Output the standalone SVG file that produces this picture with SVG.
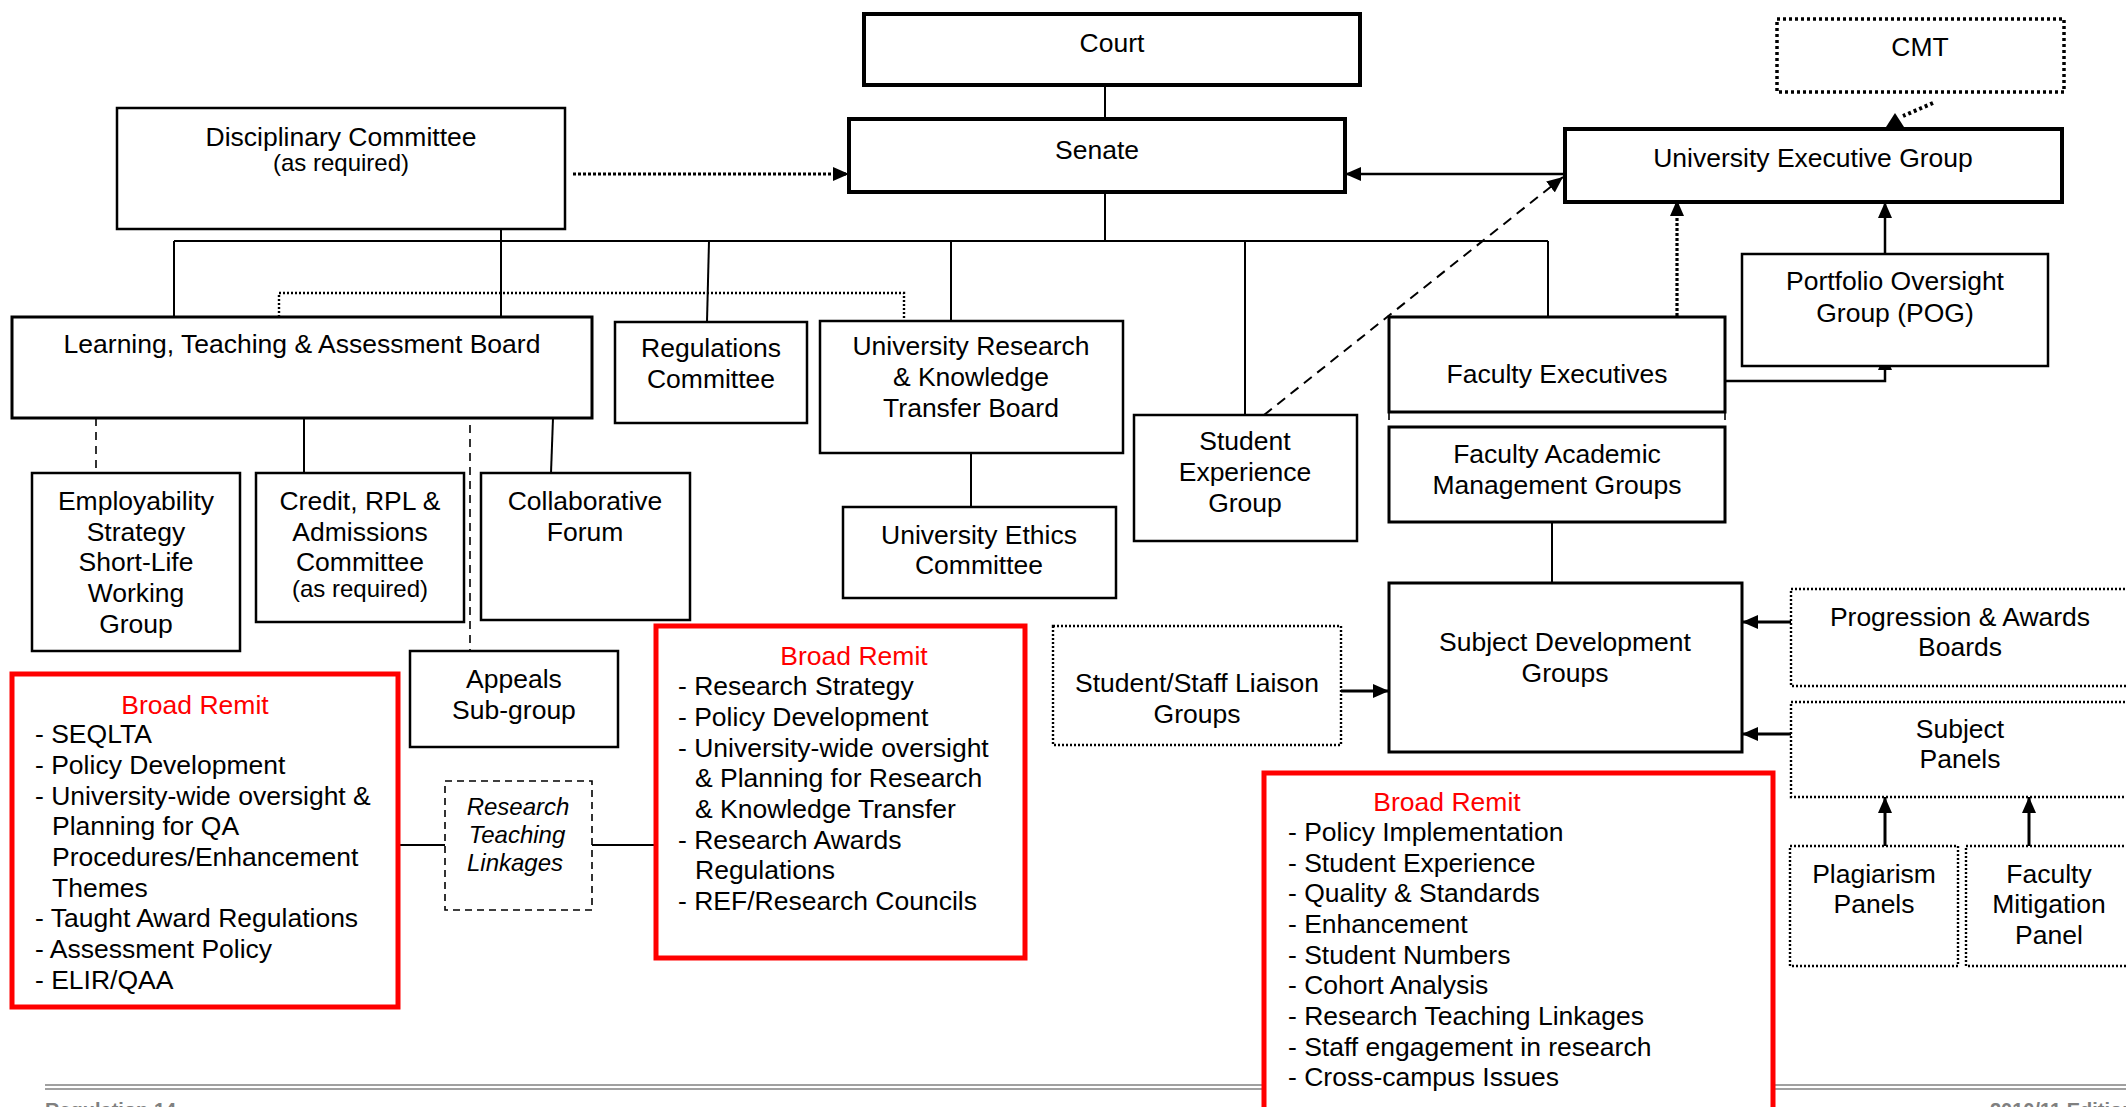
<svg xmlns="http://www.w3.org/2000/svg" width="2126" height="1107" viewBox="0 0 2126 1107">
<style>
.b{fill:#fff;stroke:#000;stroke-width:2.5}
.k{stroke-width:4}
.m{stroke-width:3}
.d{fill:#fff;stroke:#000;stroke-width:2.4;stroke-dasharray:2 2}
.r{fill:#fff;stroke:#f00;stroke-width:5}
text{font-family:"Liberation Sans",Arial,sans-serif;font-size:26.5px;fill:#000}
.c{text-anchor:middle}
.s{font-size:24px}
.i{font-style:italic;font-size:24px}
.rt{fill:#f00}
.ft{fill:#808080;font-weight:bold;font-size:20px}
.ln{fill:none;stroke:#000;stroke-width:2}
.ar{fill:none;stroke:#000;stroke-width:2.5}
.dt{fill:none;stroke:#000;stroke-width:3.2;stroke-dasharray:3 2}
.dt2{fill:none;stroke:#000;stroke-width:2.4;stroke-dasharray:2 2}
.ds{fill:none;stroke:#000;stroke-width:1.6;stroke-dasharray:8 6}
</style>
<defs>
<marker id="ah" viewBox="0 0 10 10" refX="10" refY="5" markerWidth="16" markerHeight="14" orient="auto" markerUnits="userSpaceOnUse" preserveAspectRatio="none"><path d="M0,0 L10,5 L0,10 z" fill="#000"/></marker>
</defs>

<g id="footer">
<line x1="45" y1="1085" x2="2126" y2="1085" stroke="#808080" stroke-width="1.4"/>
<line x1="45" y1="1089" x2="2126" y2="1089" stroke="#808080" stroke-width="1.4"/>
<text class="ft" x="45" y="1117">Regulation 14</text>
<text class="ft" x="1990" y="1117">2010/11 Edition</text>
</g>

<g id="connectors">
<path class="ln" d="M1105,85 V119"/>
<path class="ln" d="M1105,192 V241"/>
<path class="ln" d="M174,241 H1548"/>
<path class="ln" d="M174,241 V317"/>
<path class="ln" d="M709,241 L707,322"/>
<path class="ln" d="M951,241 V321"/>
<path class="ln" d="M1245,241 V415"/>
<path class="ln" d="M1548,241 V317"/>
<path class="ln" d="M501,229 V317"/>
<path class="dt2" d="M279,317 V293 H904 V321"/>
<path class="dt" d="M573,174 H849" marker-end="url(#ah)"/>
<path class="ar" d="M1565,174 H1345" marker-end="url(#ah)"/>
<path fill="none" stroke="#000" stroke-width="2" stroke-dasharray="10 7" d="M1264,415 L1563,177" marker-end="url(#ah)"/>
<path class="dt" d="M1677,316 V200" marker-end="url(#ah)"/>
<path class="ar" d="M1885,254 V202" marker-end="url(#ah)"/>
<path class="ar" d="M1725,381 H1885 V354" marker-end="url(#ah)"/>
<path fill="none" stroke="#000" stroke-width="4" stroke-dasharray="3 3" d="M1933,103 L1903,116"/>
<polygon points="1895,113 1886,127 1904,127" fill="#000"/>
<path class="ds" d="M1389,412 V427 M1725,412 V427"/>
<path class="ln" d="M1552,522 V583"/>
<path class="m" stroke="#000" fill="none" d="M1341,691 H1389" marker-end="url(#ah)"/>
<path class="m" stroke="#000" fill="none" d="M1791,622 H1742" marker-end="url(#ah)"/>
<path class="m" stroke="#000" fill="none" d="M1791,734 H1742" marker-end="url(#ah)"/>
<path class="m" stroke="#000" fill="none" d="M1885,846 V797" marker-end="url(#ah)"/>
<path class="m" stroke="#000" fill="none" d="M2029,846 V797" marker-end="url(#ah)"/>
<path class="ds" d="M96,418 V473"/>
<path class="ln" d="M304,418 V473"/>
<path class="ln" d="M553,418 L551,473"/>
<path class="ds" d="M470,411 V651"/>
<path class="ln" d="M971,453 V507"/>
<path class="ln" d="M398,845 H445"/>
<path class="ln" d="M592,845 H656"/>
</g>

<g id="court"><rect class="b k" x="864" y="14" width="496" height="71"/><text class="c" x="1112" y="52">Court</text></g>
<g id="senate"><rect class="b k" x="849" y="119" width="496" height="73"/><text class="c" x="1097" y="159">Senate</text></g>
<g id="cmt"><rect fill="#fff" stroke="#000" stroke-width="3.5" stroke-dasharray="3 3" x="1777" y="19" width="287" height="73"/><text class="c" x="1920" y="56">CMT</text></g>
<g id="ueg"><rect class="b k" x="1565" y="129" width="497" height="73"/><text class="c" x="1813" y="167">University Executive Group</text></g>
<g id="disciplinary"><rect class="b" x="117" y="108" width="448" height="121"/><text class="c" x="341" y="146">Disciplinary Committee</text><text class="c s" x="341" y="171">(as required)</text></g>
<g id="ltab"><rect class="b m" x="12" y="317" width="580" height="101"/><text class="c" x="302" y="353">Learning, Teaching &amp; Assessment Board</text></g>
<g id="regulations"><rect class="b" x="615" y="322" width="192" height="101"/><text class="c" x="711" y="357">Regulations</text><text class="c" x="711" y="388">Committee</text></g>
<g id="urktb"><rect class="b" x="820" y="321" width="303" height="132"/><text class="c" x="971" y="355">University Research</text><text class="c" x="971" y="386">&amp; Knowledge</text><text class="c" x="971" y="417">Transfer Board</text></g>
<g id="ethics"><rect class="b" x="843" y="507" width="273" height="91"/><text class="c" x="979" y="544">University Ethics</text><text class="c" x="979" y="574">Committee</text></g>
<g id="studentexp"><rect class="b" x="1134" y="415" width="223" height="126"/><text class="c" x="1245" y="450">Student</text><text class="c" x="1245" y="481">Experience</text><text class="c" x="1245" y="512">Group</text></g>
<g id="facexec"><rect class="b m" x="1389" y="317" width="336" height="95"/><text class="c" x="1557" y="383">Faculty Executives</text></g>
<g id="facacad"><rect class="b m" x="1389" y="427" width="336" height="95"/><text class="c" x="1557" y="463">Faculty Academic</text><text class="c" x="1557" y="494">Management Groups</text></g>
<g id="pog"><rect class="b" x="1742" y="254" width="306" height="112"/><text class="c" x="1895" y="290">Portfolio Oversight</text><text class="c" x="1895" y="322">Group (POG)</text></g>
<g id="sdg"><rect class="b m" x="1389" y="583" width="353" height="169"/><text class="c" x="1565" y="651">Subject Development</text><text class="c" x="1565" y="682">Groups</text></g>
<g id="sslg"><rect class="d" x="1053" y="626" width="288" height="119"/><text class="c" x="1197" y="692">Student/Staff Liaison</text><text class="c" x="1197" y="723">Groups</text></g>
<g id="pab"><rect class="d" x="1791" y="589" width="349" height="97"/><text class="c" x="1960" y="626">Progression &amp; Awards</text><text class="c" x="1960" y="656">Boards</text></g>
<g id="subjectpanels"><rect class="d" x="1791" y="702" width="349" height="95"/><text class="c" x="1960" y="738">Subject</text><text class="c" x="1960" y="768">Panels</text></g>
<g id="plagiarism"><rect class="d" x="1790" y="846" width="168" height="120"/><text class="c" x="1874" y="883">Plagiarism</text><text class="c" x="1874" y="913">Panels</text></g>
<g id="mitigation"><rect class="d" x="1966" y="846" width="174" height="120"/><text class="c" x="2049" y="883">Faculty</text><text class="c" x="2049" y="913">Mitigation</text><text class="c" x="2049" y="944">Panel</text></g>
<g id="employability"><rect class="b" x="32" y="473" width="208" height="178"/><text class="c" x="136" y="510">Employability</text><text class="c" x="136" y="541">Strategy</text><text class="c" x="136" y="571">Short-Life</text><text class="c" x="136" y="602">Working</text><text class="c" x="136" y="633">Group</text></g>
<g id="credit"><rect class="b" x="256" y="473" width="208" height="149"/><text class="c" x="360" y="510">Credit, RPL &amp;</text><text class="c" x="360" y="541">Admissions</text><text class="c" x="360" y="571">Committee</text><text class="c s" x="360" y="597">(as required)</text></g>
<g id="collaborative"><rect class="b" x="481" y="473" width="209" height="147"/><text class="c" x="585" y="510">Collaborative</text><text class="c" x="585" y="541">Forum</text></g>
<g id="appeals"><rect class="b" x="410" y="651" width="208" height="96"/><text class="c" x="514" y="688">Appeals</text><text class="c" x="514" y="719">Sub-group</text></g>
<g id="rtl"><rect fill="#fff" stroke="#000" stroke-width="1.6" stroke-dasharray="7 5" x="445" y="781" width="147" height="129"/><text class="c i" x="518" y="815">Research</text><text class="c i" x="517" y="843">Teaching</text><text class="c i" x="515" y="871">Linkages</text></g>

<g id="remit-ltab"><rect class="r" x="12" y="674" width="386" height="333"/>
<text class="c rt" x="195" y="714">Broad Remit</text>
<text x="35" y="743">- SEQLTA</text>
<text x="35" y="774">- Policy Development</text>
<text x="35" y="805">- University-wide oversight &amp;</text>
<text x="52" y="835">Planning for QA</text>
<text x="52" y="866">Procedures/Enhancement</text>
<text x="52" y="897">Themes</text>
<text x="35" y="927">- Taught Award Regulations</text>
<text x="35" y="958">- Assessment Policy</text>
<text x="35" y="989">- ELIR/QAA</text>
</g>
<g id="remit-urktb"><rect class="r" x="656" y="626" width="369" height="332"/>
<text class="c rt" x="854" y="665">Broad Remit</text>
<text x="678" y="695">- Research Strategy</text>
<text x="678" y="726">- Policy Development</text>
<text x="678" y="757">- University-wide oversight</text>
<text x="695" y="787">&amp; Planning for Research</text>
<text x="695" y="818">&amp; Knowledge Transfer</text>
<text x="678" y="849">- Research Awards</text>
<text x="695" y="879">Regulations</text>
<text x="678" y="910">- REF/Research Councils</text>
</g>
<g id="remit-faculty"><rect class="r" x="1264" y="773" width="509" height="350"/>
<text class="c rt" x="1447" y="811">Broad Remit</text>
<text x="1288" y="841">- Policy Implementation</text>
<text x="1288" y="872">- Student Experience</text>
<text x="1288" y="902">- Quality &amp; Standards</text>
<text x="1288" y="933">- Enhancement</text>
<text x="1288" y="964">- Student Numbers</text>
<text x="1288" y="994">- Cohort Analysis</text>
<text x="1288" y="1025">- Research Teaching Linkages</text>
<text x="1288" y="1056">- Staff engagement in research</text>
<text x="1288" y="1086">- Cross-campus Issues</text>
</g>
</svg>
